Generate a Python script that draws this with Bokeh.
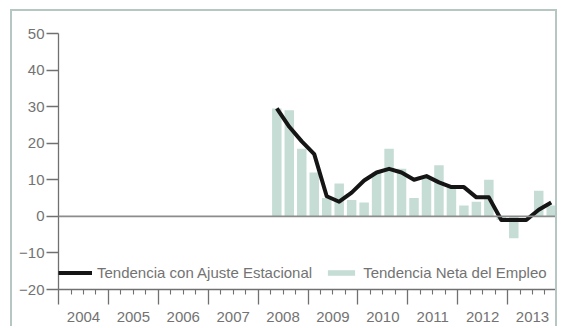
from bokeh.plotting import figure
from bokeh.models import (FixedTicker, LinearAxis, Span, Legend, LegendItem,
                          ColumnDataSource)
from bokeh.embed import file_html
from bokeh.resources import INLINE

# ---- data ----
year_labels = ["2004", "2005", "2006", "2007", "2008", "2009", "2010", "2011", "2012", "2013"]
period_year = [2008, 2008, 2008,
               2009, 2009, 2009, 2009,
               2010, 2010, 2010, 2010,
               2011, 2011, 2011, 2011,
               2012, 2012, 2012, 2012,
               2013, 2013, 2013, 2013]
period_quarter = [2, 3, 4,
                  1, 2, 3, 4,
                  1, 2, 3, 4,
                  1, 2, 3, 4,
                  1, 2, 3, 4,
                  1, 2, 3, 4]
neta_empleo = [29.5, 29, 18.5,
               12, 5, 9, 4.5,
               3.8, 12, 18.5, 13,
               5, 10.5, 14, 8.5,
               3, 4, 10, -1,
               -6, 0, 7, 3]
ajuste_estacional = [29.5, 24.5, 20.5,
                     17, 5.5, 4, 6.5,
                     9.8, 12, 13, 12,
                     10, 11, 9.3, 8,
                     8, 5.2, 5.2, -1,
                     -1, -1, 1.8, 3.8]
y_ticks = [-20, -10, 0, 10, 20, 30, 40, 50]

# ---- derived positions ----
years = [int(y) for y in year_labels]
boundaries = years + [years[-1] + 1]
x_pos = [y + (q - 0.5) / 4 for y, q in zip(period_year, period_quarter)]
quarter_ticks = [y + f for y in years for f in (0.25, 0.5, 0.75)]
mid_years = [y + 0.5 for y in years]

src = ColumnDataSource(dict(x=x_pos, neta=neta_empleo, ajuste=ajuste_estacional))

FONT = "Liberation Sans"
TXT = "#737373"
AX = "#707070"
BOX = "#b6c7c3"

p = figure(width=547, height=317,
           x_range=(boundaries[0] - 0.001, boundaries[-1] + 0.001), y_range=(-20, 50),
           output_backend="svg", toolbar_location=None,
           x_axis_location=None,
           min_border_left=46, min_border_right=2, min_border_top=22, min_border_bottom=39)
p.styles = {"border-top": f"2px solid {BOX}", "border-left": f"2px solid {BOX}",
            "border-right": f"2px solid {BOX}", "margin-left": "10px", "margin-top": "9px"}
p.outline_line_color = None
p.grid.visible = False
p.background_fill_color = "white"
p.border_fill_color = "white"

# y axis
yax = p.yaxis[0]
yax.ticker = FixedTicker(ticks=y_ticks, minor_ticks=[])
yax.major_tick_out = 12
yax.major_tick_in = 0
yax.minor_tick_out = 0
yax.axis_line_color = AX
yax.axis_line_width = 1.3
yax.major_tick_line_color = AX
yax.major_tick_line_width = 1.3
yax.major_label_text_font = FONT
yax.major_label_text_font_size = "15px"
yax.major_label_text_color = TXT
yax.major_label_standoff = 2

# x axis: ticks at year boundaries and quarters
xax1 = LinearAxis(ticker=FixedTicker(ticks=boundaries, minor_ticks=quarter_ticks),
                  major_tick_out=15, major_tick_in=0,
                  minor_tick_out=5, minor_tick_in=0,
                  axis_line_color=AX, axis_line_width=1.3,
                  major_tick_line_color=AX, major_tick_line_width=1.3,
                  minor_tick_line_color=AX, minor_tick_line_width=1.1,
                  major_label_overrides={b: "" for b in boundaries},
                  major_label_text_font_size="1px", major_label_standoff=0)
p.add_layout(xax1, "below")

# x axis: year labels centred in each year
xax2 = LinearAxis(ticker=FixedTicker(ticks=mid_years, minor_ticks=[]),
                  major_label_overrides={m: lab for m, lab in zip(mid_years, year_labels)},
                  axis_line_color=None, major_tick_line_color=None,
                  minor_tick_line_color=None, major_tick_out=0, major_tick_in=0,
                  minor_tick_out=0, minor_tick_in=0,
                  major_label_text_font=FONT, major_label_text_font_size="15px",
                  major_label_text_color=TXT, major_label_standoff=7)
p.add_layout(xax2, "below")

# zero line
p.add_layout(Span(location=0, dimension="width", line_color="#8c8c8c", line_width=1.6))

bars = p.vbar(x="x", top="neta", width=0.19, source=src,
              fill_color="#c6ddd5", line_color=None)
line = p.line(x="x", y="ajuste", source=src, line_color="#151515",
              line_width=4, line_join="round")

legend = Legend(items=[LegendItem(label="Tendencia con Ajuste Estacional", renderers=[line]),
                       LegendItem(label="Tendencia Neta del Empleo", renderers=[bars])],
                orientation="horizontal", location=(0, 8),
                glyph_width=34, glyph_height=7, label_standoff=5, spacing=12,
                padding=5, margin=0, background_fill_alpha=0, border_line_color=None,
                label_text_font=FONT, label_text_font_size="15px",
                label_text_color=TXT, label_height=16)
p.add_layout(legend)

open("out.html", "w").write(file_html(p, INLINE))
